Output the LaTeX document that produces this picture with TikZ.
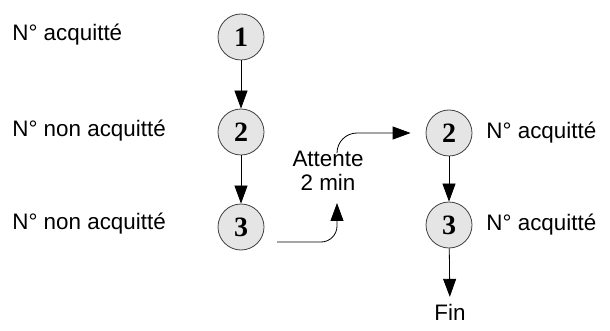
\documentclass[tikz,border=0pt]{standalone}
\usepackage{fontspec}
\setmainfont{Liberation Sans}
\newfontfamily\numfont{Liberation Serif}
\usetikzlibrary{arrows.meta}

\begin{document}
\begin{tikzpicture}[x=0.5pt,y=-0.5pt,->,>={Triangle[length=9pt,width=6.5pt]},node distance=47.5pt,thin,
    font=\fontsize{11.2}{12}\selectfont]
                \tikzset{num/.style={circle, draw=black!75, fill=black!10, minimum size=23pt, inner sep=0pt,
                    font=\numfont\bfseries\fontsize{14}{14}\selectfont},
                    txt/.style={inner sep=0pt, anchor=west},
                    every label/.style={label distance=3.5pt}}
                \useasboundingbox (0,0) rectangle (610,331);
                \node[num] (A) at (241,37) {1};
                \node[num] (B) [below of=A] {2};
                \node[num] (C) [below of=B] {3};
                \node[num, label=right:{N° acquitté}] (D) at (449,133) {2};
                \node[num, label=right:{N° acquitté}] (E) [below of=D, node distance=46pt] {3};
                \node (fin) at (450,312) {Fin};
                \node[txt] (la) at (12,35) {N° acquitté};
                \node[txt] (lb) at (12,131) {N° non acquitté};
                \node[txt] (lc) at (12,224) {N° non acquitté};
                \node[align=center] (wait) at (328,171) {Attente\\2 min};
                \coordinate (out) at (277,242);
                \coordinate (wbot) at (337,203);
                \coordinate (wtop) at (337,152);
                \path (A) edge (B);
                \path (B) edge (C);
                \path (D) edge (E);
                \path (E) edge (fin);
                \draw[rounded corners=8pt] (out) -| (wbot);
                \draw[rounded corners=10pt, shorten >=7.5pt] (wtop) |- (D.west);
            \end{tikzpicture}
\end{document}
